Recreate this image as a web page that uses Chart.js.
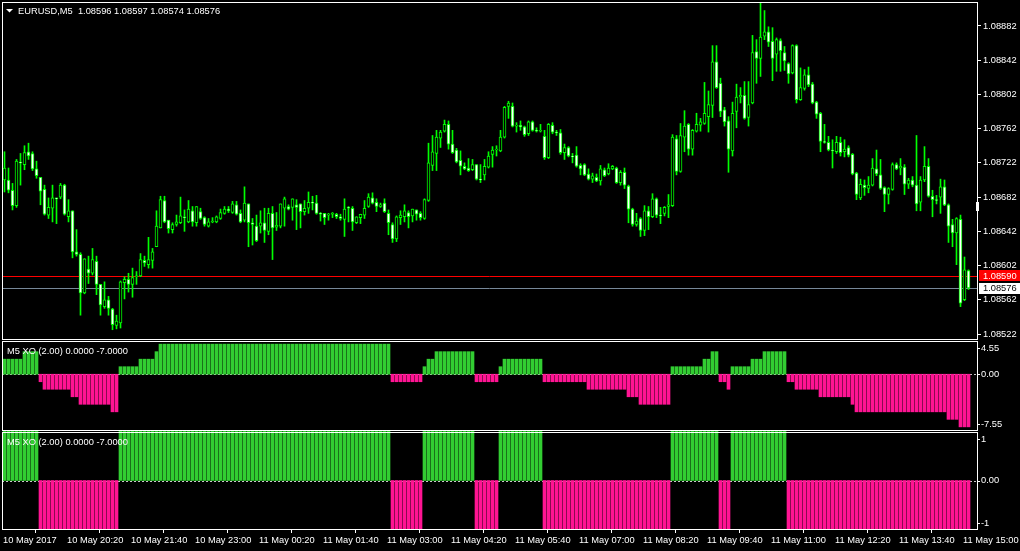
<!DOCTYPE html>
<html>
<head>
<meta charset="utf-8">
<title>EURUSD,M5</title>
<script src="https://cdn.jsdelivr.net/npm/chart.js@4"></script>
<style>
  html, body { margin: 0; padding: 0; background: #000; }
  canvas { display: block; }
</style>
</head>
<body>
<canvas id="mtChart" width="1020" height="551"></canvas>
<script>
const symbolName = 'EURUSD,M5';
const indicatorName = 'M5 XO (2.00) 0.0000 -7.0000';

// 5 minute candles, 10 May 19:00 -> 11 May 15:05
const opens = [
  1.08702,1.08702,1.08690,1.08672,1.08723,1.08720,1.08735,1.08733,1.08715,1.08705,
  1.08691,1.08661,1.08669,1.08681,1.08682,1.08696,1.08659,1.08666,1.08618,1.08615,
  1.08570,1.08598,1.08593,1.08607,1.08580,1.08554,1.08562,1.08551,1.08532,1.08535,
  1.08582,1.08586,1.08580,1.08589,1.08590,1.08608,1.08603,1.08608,1.08624,1.08646,
  1.08678,1.08655,1.08644,1.08650,1.08652,1.08659,1.08653,1.08666,1.08652,1.08665,
  1.08658,1.08648,1.08653,1.08653,1.08657,1.08663,1.08668,1.08664,1.08673,1.08663,
  1.08655,1.08674,1.08652,1.08648,1.08648,1.08652,1.08642,1.08663,1.08647,1.08648,
  1.08669,1.08671,1.08670,1.08673,1.08674,1.08665,1.08669,1.08676,1.08675,1.08663,
  1.08663,1.08661,1.08662,1.08662,1.08659,1.08656,1.08670,1.08669,1.08652,1.08658,
  1.08661,1.08671,1.08681,1.08676,1.08671,1.08675,1.08663,1.08650,1.08633,1.08658,
  1.08659,1.08664,1.08660,1.08667,1.08663,1.08657,1.08678,1.08719,1.08733,1.08751,
  1.08759,1.08767,1.08744,1.08737,1.08725,1.08718,1.08716,1.08714,1.08720,1.08703,
  1.08708,1.08717,1.08732,1.08737,1.08736,1.08752,1.08788,1.08788,1.08765,1.08766,
  1.08764,1.08756,1.08770,1.08760,1.08759,1.08753,1.08728,1.08766,1.08758,1.08757,
  1.08734,1.08740,1.08730,1.08731,1.08719,1.08720,1.08709,1.08703,1.08705,1.08701,
  1.08714,1.08709,1.08715,1.08716,1.08699,1.08711,1.08695,1.08668,1.08650,1.08657,
  1.08643,1.08666,1.08659,1.08680,1.08661,1.08663,1.08671,1.08672,1.08750,1.08712,
  1.08752,1.08767,1.08738,1.08759,1.08766,1.08768,1.08776,1.08789,1.08840,1.08815,
  1.08784,1.08771,1.08736,1.08782,1.08799,1.08801,1.08775,1.08792,1.08852,1.08844,
  1.08870,1.08875,1.08864,1.08849,1.08865,1.08851,1.08838,1.08827,1.08859,1.08796,
  1.08809,1.08825,1.08814,1.08793,1.08780,1.08747,1.08746,1.08737,1.08735,1.08746,
  1.08735,1.08740,1.08732,1.08710,1.08681,1.08696,1.08692,1.08696,1.08715,1.08708,
  1.08693,1.08685,1.08691,1.08720,1.08716,1.08717,1.08697,1.08702,1.08696,1.08676,
  1.08702,1.08718,1.08683,1.08679,1.08682,1.08694,1.08673,1.08650,1.08640,1.08656,
  1.08562,1.08596
];
const highs = [
  1.08735,1.08716,1.08698,1.08726,1.08733,1.08742,1.08745,1.08735,1.08724,1.08705,
  1.08696,1.08681,1.08696,1.08681,1.08698,1.08697,1.08679,1.08666,1.08644,1.08617,
  1.08610,1.08613,1.08622,1.08613,1.08580,1.08583,1.08566,1.08552,1.08544,1.08584,
  1.08589,1.08593,1.08599,1.08595,1.08616,1.08613,1.08635,1.08622,1.08666,1.08683,
  1.08683,1.08655,1.08652,1.08661,1.08682,1.08667,1.08678,1.08671,1.08671,1.08669,
  1.08659,1.08657,1.08658,1.08660,1.08668,1.08671,1.08671,1.08677,1.08677,1.08667,
  1.08694,1.08674,1.08657,1.08661,1.08666,1.08669,1.08669,1.08671,1.08664,1.08674,
  1.08682,1.08673,1.08680,1.08679,1.08674,1.08678,1.08688,1.08683,1.08684,1.08664,
  1.08663,1.08663,1.08664,1.08663,1.08662,1.08680,1.08671,1.08671,1.08659,1.08662,
  1.08678,1.08686,1.08687,1.08680,1.08675,1.08680,1.08667,1.08652,1.08660,1.08666,
  1.08673,1.08666,1.08668,1.08667,1.08665,1.08680,1.08745,1.08754,1.08760,1.08760,
  1.08772,1.08771,1.08760,1.08739,1.08736,1.08722,1.08727,1.08726,1.08720,1.08720,
  1.08726,1.08735,1.08741,1.08742,1.08760,1.08788,1.08794,1.08792,1.08769,1.08771,
  1.08765,1.08771,1.08771,1.08763,1.08767,1.08760,1.08768,1.08769,1.08760,1.08761,
  1.08744,1.08741,1.08733,1.08741,1.08721,1.08721,1.08715,1.08710,1.08709,1.08719,
  1.08716,1.08721,1.08719,1.08717,1.08713,1.08716,1.08696,1.08669,1.08663,1.08658,
  1.08672,1.08671,1.08686,1.08681,1.08670,1.08671,1.08685,1.08755,1.08754,1.08768,
  1.08783,1.08768,1.08761,1.08780,1.08774,1.08816,1.08806,1.08859,1.08859,1.08821,
  1.08787,1.08776,1.08793,1.08814,1.08810,1.08817,1.08817,1.08871,1.08866,1.08909,
  1.08900,1.08881,1.08880,1.08868,1.08867,1.08858,1.08839,1.08860,1.08860,1.08833,
  1.08831,1.08834,1.08816,1.08794,1.08781,1.08767,1.08753,1.08749,1.08753,1.08752,
  1.08749,1.08742,1.08733,1.08711,1.08703,1.08702,1.08706,1.08727,1.08737,1.08726,
  1.08694,1.08693,1.08722,1.08722,1.08727,1.08720,1.08704,1.08706,1.08754,1.08706,
  1.08741,1.08727,1.08690,1.08684,1.08703,1.08702,1.08674,1.08656,1.08658,1.08661,
  1.08612,1.08597
];
const lows = [
  1.08688,1.08687,1.08667,1.08670,1.08696,1.08714,1.08726,1.08713,1.08704,1.08673,
  1.08661,1.08657,1.08653,1.08651,1.08680,1.08661,1.08653,1.08611,1.08613,1.08544,
  1.08569,1.08581,1.08591,1.08568,1.08544,1.08552,1.08544,1.08527,1.08528,1.08529,
  1.08563,1.08571,1.08565,1.08580,1.08589,1.08601,1.08599,1.08599,1.08624,1.08646,
  1.08652,1.08640,1.08640,1.08648,1.08651,1.08642,1.08652,1.08648,1.08648,1.08656,
  1.08648,1.08647,1.08652,1.08652,1.08656,1.08662,1.08664,1.08663,1.08661,1.08652,
  1.08653,1.08624,1.08626,1.08630,1.08640,1.08629,1.08638,1.08609,1.08643,1.08646,
  1.08648,1.08667,1.08655,1.08644,1.08646,1.08661,1.08663,1.08667,1.08662,1.08654,
  1.08650,1.08655,1.08658,1.08657,1.08655,1.08636,1.08653,1.08643,1.08651,1.08651,
  1.08657,1.08670,1.08674,1.08665,1.08670,1.08664,1.08638,1.08629,1.08630,1.08650,
  1.08653,1.08646,1.08653,1.08655,1.08655,1.08656,1.08677,1.08713,1.08713,1.08740,
  1.08758,1.08738,1.08733,1.08722,1.08708,1.08714,1.08712,1.08713,1.08702,1.08699,
  1.08702,1.08716,1.08717,1.08730,1.08735,1.08751,1.08774,1.08764,1.08758,1.08760,
  1.08753,1.08754,1.08759,1.08758,1.08758,1.08726,1.08727,1.08756,1.08754,1.08732,
  1.08726,1.08729,1.08722,1.08717,1.08708,1.08707,1.08702,1.08699,1.08700,1.08696,
  1.08706,1.08708,1.08714,1.08698,1.08696,1.08692,1.08652,1.08648,1.08648,1.08636,
  1.08637,1.08644,1.08658,1.08658,1.08651,1.08660,1.08658,1.08671,1.08708,1.08711,
  1.08735,1.08731,1.08731,1.08758,1.08759,1.08767,1.08758,1.08775,1.08809,1.08776,
  1.08765,1.08711,1.08730,1.08763,1.08792,1.08773,1.08765,1.08791,1.08815,1.08823,
  1.08866,1.08858,1.08818,1.08829,1.08829,1.08830,1.08815,1.08826,1.08792,1.08795,
  1.08807,1.08811,1.08791,1.08774,1.08735,1.08745,1.08736,1.08716,1.08733,1.08730,
  1.08729,1.08729,1.08708,1.08679,1.08679,1.08684,1.08687,1.08695,1.08707,1.08691,
  1.08665,1.08674,1.08690,1.08714,1.08708,1.08685,1.08692,1.08694,1.08666,1.08666,
  1.08700,1.08682,1.08659,1.08674,1.08663,1.08672,1.08629,1.08624,1.08603,1.08554,
  1.08561,1.08574
];
const closes = [
  1.08716,1.08690,1.08672,1.08724,1.08722,1.08734,1.08730,1.08715,1.08707,1.08689,
  1.08662,1.08670,1.08681,1.08680,1.08696,1.08662,1.08666,1.08618,1.08615,1.08570,
  1.08610,1.08593,1.08609,1.08580,1.08556,1.08562,1.08552,1.08533,1.08537,1.08583,
  1.08586,1.08580,1.08588,1.08590,1.08609,1.08605,1.08609,1.08618,1.08648,1.08679,
  1.08653,1.08645,1.08650,1.08653,1.08660,1.08658,1.08668,1.08653,1.08671,1.08657,
  1.08650,1.08653,1.08654,1.08659,1.08664,1.08668,1.08666,1.08674,1.08662,1.08653,
  1.08675,1.08652,1.08650,1.08631,1.08652,1.08643,1.08663,1.08646,1.08649,1.08674,
  1.08680,1.08668,1.08680,1.08670,1.08665,1.08669,1.08676,1.08675,1.08663,1.08662,
  1.08658,1.08662,1.08663,1.08659,1.08657,1.08668,1.08669,1.08653,1.08659,1.08662,
  1.08669,1.08682,1.08675,1.08671,1.08673,1.08665,1.08652,1.08633,1.08659,1.08661,
  1.08666,1.08659,1.08668,1.08662,1.08658,1.08679,1.08722,1.08735,1.08752,1.08758,
  1.08767,1.08744,1.08734,1.08723,1.08718,1.08715,1.08713,1.08720,1.08703,1.08702,
  1.08718,1.08730,1.08737,1.08738,1.08752,1.08787,1.08792,1.08765,1.08766,1.08764,
  1.08755,1.08770,1.08760,1.08759,1.08760,1.08728,1.08767,1.08758,1.08757,1.08734,
  1.08740,1.08730,1.08729,1.08718,1.08715,1.08708,1.08703,1.08707,1.08701,1.08715,
  1.08707,1.08716,1.08718,1.08699,1.08711,1.08696,1.08668,1.08650,1.08654,1.08643,
  1.08666,1.08659,1.08680,1.08661,1.08660,1.08670,1.08673,1.08752,1.08712,1.08754,
  1.08765,1.08738,1.08760,1.08767,1.08770,1.08780,1.08790,1.08840,1.08810,1.08782,
  1.08770,1.08738,1.08780,1.08799,1.08801,1.08774,1.08790,1.08851,1.08844,1.08869,
  1.08875,1.08863,1.08844,1.08866,1.08853,1.08841,1.08826,1.08859,1.08796,1.08810,
  1.08825,1.08813,1.08792,1.08779,1.08747,1.08746,1.08737,1.08736,1.08746,1.08734,
  1.08738,1.08731,1.08709,1.08685,1.08697,1.08693,1.08696,1.08716,1.08709,1.08692,
  1.08685,1.08692,1.08720,1.08715,1.08718,1.08697,1.08702,1.08696,1.08674,1.08702,
  1.08718,1.08683,1.08679,1.08678,1.08694,1.08673,1.08648,1.08640,1.08657,1.08558,
  1.08597,1.08576
];

// XO indicator, first window (histogram)
const xoValues = [
  2,2,2,2,2,3,3,3,3,-1,
  -2,-2,-2,-2,-2,-2,-2,-3,-3,-4,
  -4,-4,-4,-4,-4,-4,-4,-5,-5,1,
  1,1,1,1,2,2,2,2,3,4,
  4,4,4,4,4,4,4,4,4,4,
  4,4,4,4,4,4,4,4,4,4,
  4,4,4,4,4,4,4,4,4,4,
  4,4,4,4,4,4,4,4,4,4,
  4,4,4,4,4,4,4,4,4,4,
  4,4,4,4,4,4,4,-1,-1,-1,
  -1,-1,-1,-1,-1,1,2,2,3,3,
  3,3,3,3,3,3,3,3,-1,-1,
  -1,-1,-1,-1,1,2,2,2,2,2,
  2,2,2,2,2,-1,-1,-1,-1,-1,
  -1,-1,-1,-1,-1,-1,-2,-2,-2,-2,
  -2,-2,-2,-2,-2,-2,-3,-3,-3,-4,
  -4,-4,-4,-4,-4,-4,-4,1,1,1,
  1,1,1,1,1,2,2,3,3,-1,
  -1,-2,1,1,1,1,1,2,2,2,
  3,3,3,3,3,3,-1,-1,-2,-2,
  -2,-2,-2,-2,-3,-3,-3,-3,-3,-3,
  -3,-3,-4,-5,-5,-5,-5,-5,-5,-5,
  -5,-5,-5,-5,-5,-5,-5,-5,-5,-5,
  -5,-5,-5,-5,-5,-5,-6,-6,-6,-7,
  -7,-7
];
// XO indicator, second window (direction)
const xoSigns = [
  1,1,1,1,1,1,1,1,1,-1,
  -1,-1,-1,-1,-1,-1,-1,-1,-1,-1,
  -1,-1,-1,-1,-1,-1,-1,-1,-1,1,
  1,1,1,1,1,1,1,1,1,1,
  1,1,1,1,1,1,1,1,1,1,
  1,1,1,1,1,1,1,1,1,1,
  1,1,1,1,1,1,1,1,1,1,
  1,1,1,1,1,1,1,1,1,1,
  1,1,1,1,1,1,1,1,1,1,
  1,1,1,1,1,1,1,-1,-1,-1,
  -1,-1,-1,-1,-1,1,1,1,1,1,
  1,1,1,1,1,1,1,1,-1,-1,
  -1,-1,-1,-1,1,1,1,1,1,1,
  1,1,1,1,1,-1,-1,-1,-1,-1,
  -1,-1,-1,-1,-1,-1,-1,-1,-1,-1,
  -1,-1,-1,-1,-1,-1,-1,-1,-1,-1,
  -1,-1,-1,-1,-1,-1,-1,1,1,1,
  1,1,1,1,1,1,1,1,1,-1,
  -1,-1,1,1,1,1,1,1,1,1,
  1,1,1,1,1,1,-1,-1,-1,-1,
  -1,-1,-1,-1,-1,-1,-1,-1,-1,-1,
  -1,-1,-1,-1,-1,-1,-1,-1,-1,-1,
  -1,-1,-1,-1,-1,-1,-1,-1,-1,-1,
  -1,-1,-1,-1,-1,-1,-1,-1,-1,-1,
  -1,-1
];

const priceTicks = [1.08882, 1.08842, 1.08802, 1.08762, 1.08722, 1.08682, 1.08642, 1.08602, 1.08562, 1.08522];
const xoTicks = [4.55, 0, -7.55];
const signTicks = [1, 0, -1];
const timeTickIndex = [0, 16, 32, 48, 64, 80, 96, 112, 128, 144, 160, 176, 192, 208, 224, 240];
const timeTickLabels = [
  '10 May 2017', '10 May 20:20', '10 May 21:40', '10 May 23:00',
  '11 May 00:20', '11 May 01:40', '11 May 03:00', '11 May 04:20',
  '11 May 05:40', '11 May 07:00', '11 May 08:20', '11 May 09:40',
  '11 May 11:00', '11 May 12:20', '11 May 13:40', '11 May 15:00'
];
const askPrice = 1.08590;
const shiftMarkPrice = 1.08672;

const LIME = '#00ff00';
const UP = '#32cd32';
const DOWN = '#ff1493';
const FONT = '"Liberation Sans", Arial, sans-serif';
const FONT_SIZE = 9.3;

const idx = closes.map((c, i) => i);

function panelLabels(ctx, area, scale, ticks, fmt) {
    ticks.forEach((v, k) => {
        const y = scale.getPixelForValue(v);
        let ty = y, base = 'middle', my = y;
        if (k === 0) { ty = scale.top + 4; base = 'top'; my = ty + 4; }
        if (k === ticks.length - 1) { ty = scale.bottom - 2; base = 'bottom'; my = ty - 5; }
        ctx.textBaseline = base;
        ctx.fillText(fmt(v), area.right + 4, ty);
        const ym = Math.round(my) + 0.5;
        ctx.beginPath();
        ctx.moveTo(area.right, ym);
        ctx.lineTo(area.right + 3, ym);
        ctx.stroke();
    });
}

const mtPlugin = {
    id: 'mtDecor',
    beforeDatasetsDraw(chart) {
        const { ctx, chartArea: a, scales } = chart;
        ctx.save();
        ctx.lineWidth = 1;

        // dashed zero lines of the indicator windows
        ctx.strokeStyle = '#c8c8c8';
        ctx.setLineDash([2, 2]);
        ['y2', 'y3'].forEach(id => {
            const y = Math.round(scales[id].getPixelForValue(0)) + 0.5;
            ctx.beginPath();
            ctx.moveTo(a.left, y);
            ctx.lineTo(a.right, y);
            ctx.stroke();
        });
        ctx.setLineDash([]);

        // ask / bid lines
        const bid = closes[closes.length - 1];
        [[askPrice, '#ff0000'], [bid, '#778899']].forEach(([p, c]) => {
            const y = Math.round(scales.y.getPixelForValue(p)) + 0.5;
            ctx.strokeStyle = c;
            ctx.beginPath();
            ctx.moveTo(a.left, y);
            ctx.lineTo(a.right, y);
            ctx.stroke();
        });
        ctx.restore();
    },
    afterDraw(chart) {
        const { ctx, chartArea: a, scales, width } = chart;
        ctx.save();
        ctx.lineWidth = 1;
        ctx.strokeStyle = '#ffffff';

        // window frames
        ['y', 'y2', 'y3'].forEach(id => {
            const s = scales[id];
            const off = id === 'y' ? 0.5 : 1.5;
            ctx.strokeRect(a.left + 0.5, s.top + off, a.right - a.left, s.bottom - s.top - off - 0.5);
        });

        ctx.font = FONT_SIZE + 'px ' + FONT;
        ctx.textAlign = 'left';
        ctx.fillStyle = '#ffffff';

        // header
        const n = closes.length - 1;
        const head = symbolName + '  ' + [opens[n], highs[n], lows[n], closes[n]].map(v => v.toFixed(5)).join(' ');
        ctx.textBaseline = 'middle';
        ctx.fillText(head, 18, 11);
        ctx.beginPath();
        ctx.moveTo(6, 9);
        ctx.lineTo(13, 9);
        ctx.lineTo(9.5, 12.5);
        ctx.closePath();
        ctx.fill();

        ctx.fillText(indicatorName, 7, scales.y2.top + 11);
        ctx.fillText(indicatorName, 7, scales.y3.top + 11);

        // indicator scales
        panelLabels(ctx, a, scales.y2, xoTicks, v => v.toFixed(2));
        panelLabels(ctx, a, scales.y3, signTicks, v => v === 0 ? '0.00' : String(v));

        // price boxes
        const yAsk = Math.round(scales.y.getPixelForValue(askPrice));
        ctx.fillStyle = '#ff0000';
        ctx.fillRect(a.right + 2, yAsk - 6, width - a.right - 2, 11);
        ctx.fillStyle = '#ffffff';
        ctx.textBaseline = 'middle';
        ctx.fillText(askPrice.toFixed(5), a.right + 6, yAsk);

        const yBid = Math.round(scales.y.getPixelForValue(closes[n]));
        ctx.fillStyle = '#ffffff';
        ctx.fillRect(a.right + 2, yBid - 5, width - a.right - 2, 11);
        ctx.fillStyle = '#000000';
        ctx.fillText(closes[n].toFixed(5), a.right + 6, yBid + 0.5);

        // chart shift mark
        const ySh = Math.round(scales.y.getPixelForValue(shiftMarkPrice));
        ctx.fillStyle = '#ffffff';
        ctx.fillRect(a.right - 1, ySh - 4, 3, 9);
        ctx.restore();
    }
};

const fixRight = s => { s.width = 43; s.paddingTop = 0; s.paddingBottom = 0; };

new Chart(document.getElementById('mtChart'), {
    type: 'bar',
    data: {
        datasets: [
            {
                label: 'wick',
                data: idx.map(i => ({ x: i, y: [lows[i], highs[i]] })),
                yAxisID: 'y',
                backgroundColor: LIME,
                barThickness: 1,
                grouped: false,
                order: 2
            },
            {
                label: 'body',
                data: idx.map(i => ({ x: i, y: [opens[i], closes[i]] })),
                yAxisID: 'y',
                backgroundColor: idx.map(i => closes[i] < opens[i] ? '#ffffff' : '#000000'),
                borderColor: LIME,
                borderWidth: 1,
                borderSkipped: false,
                barThickness: 3,
                grouped: false,
                order: 1
            },
            {
                label: 'XO',
                data: idx.map(i => ({ x: i, y: xoValues[i] })),
                yAxisID: 'y2',
                backgroundColor: xoValues.map(v => v >= 0 ? UP : DOWN),
                barThickness: 3,
                grouped: false
            },
            {
                label: 'XO dir',
                data: idx.map(i => ({ x: i, y: xoSigns[i] })),
                yAxisID: 'y3',
                backgroundColor: xoSigns.map(v => v >= 0 ? UP : DOWN),
                barThickness: 3,
                grouped: false
            }
        ]
    },
    options: {
        responsive: false,
        animation: false,
        devicePixelRatio: 1,
        events: [],
        layout: { padding: { left: 2, top: 2, right: 0, bottom: 0 } },
        plugins: {
            legend: { display: false },
            tooltip: { enabled: false }
        },
        scales: {
            x: {
                type: 'linear',
                min: -0.625,
                max: 243.125,
                offset: false,
                afterBuildTicks: s => { s.ticks = timeTickIndex.map(v => ({ value: v - 0.375 })); },
                afterFit: s => { s.height = 21; s.paddingLeft = 0; s.paddingRight = 0; },
                ticks: {
                    autoSkip: false,
                    maxRotation: 0,
                    minRotation: 0,
                    align: 'start',
                    padding: 2,
                    color: '#ffffff',
                    font: { family: FONT, size: FONT_SIZE },
                    callback: (v, k) => timeTickLabels[k]
                },
                grid: { drawOnChartArea: false, color: '#ffffff', tickLength: 3 },
                border: { display: false }
            },
            y: {
                type: 'linear',
                position: 'right',
                stack: 'windows',
                stackWeight: 338,
                min: 1.08515,
                max: 1.0891,
                afterBuildTicks: s => { s.ticks = priceTicks.map(v => ({ value: v })); },
                afterFit: fixRight,
                ticks: {
                    padding: 2,
                    color: '#ffffff',
                    font: { family: FONT, size: FONT_SIZE },
                    callback: v => v.toFixed(5)
                },
                grid: { drawOnChartArea: false, color: '#ffffff', tickLength: 4 },
                border: { display: false }
            },
            y2: {
                type: 'linear',
                position: 'right',
                stack: 'windows',
                stackWeight: 91,
                min: -7.55,
                max: 4.55,
                afterFit: fixRight,
                ticks: { display: false },
                grid: { display: false },
                border: { display: false }
            },
            y3: {
                type: 'linear',
                position: 'right',
                stack: 'windows',
                stackWeight: 99,
                min: -1,
                max: 1,
                afterFit: fixRight,
                ticks: { display: false },
                grid: { display: false },
                border: { display: false }
            }
        }
    },
    plugins: [mtPlugin]
});
</script>
</body>
</html>
